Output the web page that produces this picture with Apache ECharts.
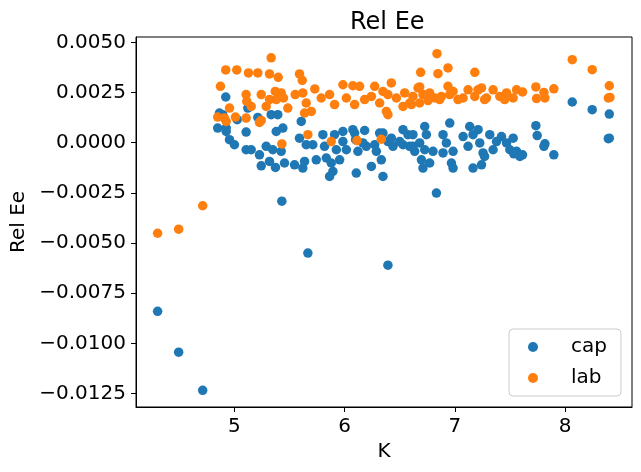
<!DOCTYPE html>
<html lang="en">

<head>
    <meta charset="UTF-8">
    <title>Rel Ee</title>
    <style>
        body { margin: 0; background: #fff; }
    </style>
</head>

<body>
    <div id="main" style="width: 641px;height: 472px;"></div>
    <script src="https://cdn.jsdelivr.net/npm/echarts@6.0.0/dist/echarts.min.js"></script>
    <script>
        // cap series: K and Rel Ee
        var capK = [4.303, 4.494, 4.712, 5.430, 5.666, 6.392, 6.832, 4.921, 4.864, 4.894,
            4.848, 4.925, 4.925, 4.955, 5.000, 5.025, 5.121, 5.106, 5.212, 5.333,
            5.393, 5.379, 5.439, 5.606, 5.106, 5.152, 5.227, 5.288, 5.348, 5.243,
            5.318, 5.372, 5.454, 5.424, 5.545, 5.620, 5.590, 5.651, 5.711, 5.802,
            5.817, 5.908, 5.984, 6.074, 6.090, 6.181, 5.984, 5.924, 6.015, 6.196,
            6.272, 6.317, 6.392, 6.438, 6.529, 6.574, 6.499, 6.619, 5.636, 5.742,
            5.833, 5.878, 5.954, 5.893, 5.863, 6.120, 6.242, 6.332, 6.347, 6.105,
            6.287, 6.099, 6.165, 6.347, 6.423, 6.529, 6.953, 6.726, 6.741, 6.619,
            6.680, 6.635, 6.696, 6.771, 6.726, 6.801, 6.892, 6.922, 6.892, 6.983,
            6.968, 6.983, 7.074, 7.134, 7.164, 7.210, 7.119, 7.225, 7.255, 7.241,
            7.164, 7.316, 7.377, 7.346, 7.422, 7.468, 7.528, 7.498, 7.559, 7.589,
            6.710, 6.589, 7.269, 7.613, 7.534, 8.064, 8.245, 8.400, 8.391, 8.400,
            7.734, 7.746, 7.816, 7.807, 7.897];
        var capE = [-0.00840, -0.01044, -0.01234, -0.00291, -0.00550, -0.00610, -0.00251, 0.00228, 0.00148, 0.00140,
            0.00073, 0.00073, 0.00056, 0.00015, -0.00010, 0.00115, 0.00173, 0.00053, 0.00126, 0.00140,
            0.00140, 0.00056, 0.00073, 0.00106, -0.00035, -0.00035, -0.00060, -0.00018, -0.00035, -0.00115,
            -0.00093, -0.00123, -0.00101, -0.00043, -0.00110, -0.00126, 0.00023, -0.00010, -0.00010, 0.00040,
            -0.00018, 0.00040, 0.00056, 0.00065, 0.00048, 0.00061, 0.00006, -0.00035, -0.00035, -0.00018,
            -0.00010, 0.00048, 0.00006, -0.00018, 0.00065, 0.00040, 0.00006, -0.00018, -0.00093, -0.00085,
            -0.00076, -0.00101, -0.00085, -0.00143, -0.00168, -0.00043, -0.00118, -0.00085, -0.00168, -0.00151,
            -0.00043, 0.00015, -0.00001, 0.00048, 0.00023, -0.00010, 0.00098, 0.00081, 0.00040, 0.00040,
            -0.00001, -0.00043, -0.00085, -0.00101, -0.00035, -0.00043, 0.00040, -0.00001, -0.00051, -0.00043,
            -0.00101, -0.00126, 0.00031, 0.00081, 0.00040, 0.00065, -0.00018, -0.00001, -0.00051, -0.00110,
            -0.00126, 0.00040, 0.00006, -0.00035, 0.00031, -0.00001, 0.00023, -0.00035, -0.00043, -0.00068,
            -0.00126, -0.00018, -0.00068, -0.00060, -0.00055, 0.00203, 0.00165, 0.00143, 0.00020, 0.00023,
            0.00085, 0.00036, -0.00005, -0.00018, -0.00060];

        // lab series: K and Rel Ee
        var labK = [4.303, 4.494, 4.712, 5.333, 4.921, 5.021, 5.127, 5.212, 5.318, 5.397,
            5.590, 5.615, 4.873, 5.106, 5.112, 5.152, 5.243, 5.288, 5.318, 5.370,
            5.379, 5.424, 5.445, 5.484, 5.551, 4.848, 4.909, 4.955, 4.925, 5.009,
            5.106, 5.227, 5.243, 5.430, 5.666, 5.878, 6.111, 6.332, 5.620, 5.651,
            5.697, 5.636, 5.729, 5.787, 5.863, 5.908, 5.984, 6.074, 6.135, 6.015,
            6.090, 6.181, 6.272, 6.242, 6.317, 6.423, 6.392, 6.378, 6.392, 6.469,
            6.544, 6.590, 6.529, 6.347, 6.665, 6.619, 6.710, 6.771, 6.817, 6.877,
            6.937, 6.953, 6.983, 7.028, 7.074, 7.119, 7.180, 7.241, 7.286, 7.346,
            7.407, 7.468, 7.528, 7.559, 6.605, 6.680, 6.837, 6.689, 6.846, 6.937,
            7.180, 6.680, 7.613, 7.734, 7.807, 7.816, 7.740, 7.897, 8.064, 8.245,
            8.400, 8.391, 8.406, 7.209, 7.269, 7.451, 6.862, 6.756];
        var labE = [-0.00451, -0.00431, -0.00314, 0.00423, 0.00363, 0.00363, 0.00348, 0.00348, 0.00343, 0.00326,
            0.00343, 0.00311, 0.00281, 0.00240, 0.00206, 0.00181, 0.00240, 0.00181, 0.00215, 0.00256,
            0.00215, 0.00248, 0.00223, 0.00173, 0.00240, 0.00128, 0.00123, 0.00173, 0.00106, 0.00128,
            0.00123, 0.00101, 0.00111, -0.00006, 0.00040, 0.00006, 0.00011, 0.00018, 0.00248, 0.00198,
            0.00156, 0.00148, 0.00268, 0.00223, 0.00240, 0.00190, 0.00289, 0.00284, 0.00281, 0.00223,
            0.00190, 0.00215, 0.00281, 0.00231, 0.00198, 0.00298, 0.00240, 0.00156, 0.00140, 0.00223,
            0.00248, 0.00198, 0.00181, 0.00256, 0.00273, 0.00231, 0.00240, 0.00248, 0.00223, 0.00231,
            0.00281, 0.00240, 0.00256, 0.00215, 0.00223, 0.00264, 0.00231, 0.00273, 0.00223, 0.00264,
            0.00231, 0.00248, 0.00223, 0.00264, 0.00190, 0.00198, 0.00444, 0.00351, 0.00344, 0.00373,
            0.00351, 0.00278, 0.00253, 0.00278, 0.00251, 0.00223, 0.00220, 0.00269, 0.00414, 0.00364,
            0.00284, 0.00223, 0.00226, 0.00264, 0.00215, 0.00215, 0.00215, 0.00210];

        var xTicks = [5, 6, 7, 8];
        var yTicks = [-0.0125, -0.0100, -0.0075, -0.0050, -0.0025, 0.0000, 0.0025, 0.0050];

        function zip(a, b) {
            var out = [];
            for (var i = 0; i < a.length; i++) out.push([a[i], b[i]]);
            return out;
        }

        var font = 'DejaVu Sans';
        var chart = echarts.init(document.getElementById('main'));
        chart.setOption({
            animation: false,
            color: ['#1f77b4', '#ff7f0e'],
            title: {
                text: 'Rel Ee',
                left: 345,
                top: 6,
                textStyle: { fontFamily: font, fontSize: 24, fontWeight: 'normal', color: '#000' }
            },
            legend: {
                orient: 'vertical',
                left: 509,
                top: 329,
                padding: [7, 14, 7, 19],
                itemGap: 9,
                itemWidth: 20,
                itemHeight: 10,
                icon: 'circle',
                itemStyle: { opacity: 1 },
                backgroundColor: 'rgba(255,255,255,0.8)',
                borderColor: '#cccccc',
                borderWidth: 1,
                borderRadius: 4,
                textStyle: { fontFamily: font, fontSize: 20, color: '#000', lineHeight: 22, padding: [0, 0, 0, 23] },
                data: ['cap', 'lab']
            },
            grid: {
                left: 136,
                right: 9,
                top: 37,
                bottom: 65,
                show: true,
                borderColor: '#000',
                borderWidth: 1,
                backgroundColor: '#fff'
            },
            xAxis: {
                type: 'value',
                min: 4.107,
                max: 8.606,
                name: 'K',
                nameLocation: 'middle',
                nameGap: 33,
                nameTextStyle: { fontFamily: font, fontSize: 20, color: '#000' },
                axisLine: { show: true, onZero: false, lineStyle: { color: '#000', width: 1 } },
                axisTick: { show: true, length: 5, customValues: xTicks, lineStyle: { color: '#000' } },
                axisLabel: {
                    customValues: xTicks,
                    margin: 10,
                    fontFamily: font, fontSize: 20, color: '#000'
                },
                splitLine: { show: false }
            },
            yAxis: {
                type: 'value',
                min: -0.01317,
                max: 0.00527,
                name: 'Rel Ee',
                nameLocation: 'middle',
                nameGap: 95,
                nameTextStyle: { fontFamily: font, fontSize: 20, color: '#000' },
                axisLine: { show: true, onZero: false, lineStyle: { color: '#000', width: 1 } },
                axisTick: { show: true, length: 5, customValues: yTicks, lineStyle: { color: '#000' } },
                axisLabel: {
                    customValues: yTicks,
                    margin: 10,
                    fontFamily: font, fontSize: 20, color: '#000',
                    formatter: function (v) {
                        return (v < -1e-9 ? '\u2212' : '') + Math.abs(v).toFixed(4);
                    }
                },
                splitLine: { show: false }
            },
            series: [
                {
                    name: 'cap',
                    type: 'scatter',
                    symbolSize: 9.5,
                    itemStyle: { opacity: 1 },
                    data: zip(capK, capE)
                },
                {
                    name: 'lab',
                    type: 'scatter',
                    symbolSize: 9.5,
                    itemStyle: { opacity: 1 },
                    data: zip(labK, labE)
                }
            ]
        });
    </script>
</body>

</html>
